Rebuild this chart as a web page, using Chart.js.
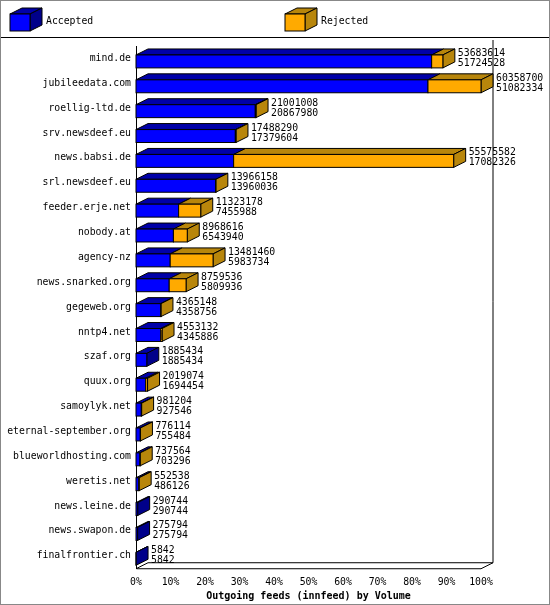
<!DOCTYPE html>
<html><head><meta charset="utf-8">
<script src="https://cdn.jsdelivr.net/npm/chart.js@4"></script>
<style>body{margin:0;background:#fff}#w{width:548px;height:603px;border:1px solid #888;position:relative}</style>
</head><body><div id="w"><canvas id="c" width="548" height="603"></canvas></div>
<script>
const categories=["mind.de","jubileedata.com","roellig-ltd.de","srv.newsdeef.eu","news.babsi.de","srl.newsdeef.eu","feeder.erje.net","nobody.at","agency-nz","news.snarked.org","gegeweb.org","nntp4.net","szaf.org","quux.org","samoylyk.net","eternal-september.org","blueworldhosting.com","weretis.net","news.leine.de","news.swapon.de","finalfrontier.ch"];
const offered=[53683614,60358700,21001008,17488290,55575582,13966158,11323178,8968616,13481460,8759536,4365148,4553132,1885434,2019074,981204,776114,737564,552538,290744,275794,5842];
const accepted=[51724528,51082334,20867980,17379604,17082326,13960036,7455988,6543940,5983734,5809936,4358756,4345886,1885434,1694454,927546,755484,703296,486126,290744,275794,5842];
const tickLabels=["0%","10%","20%","30%","40%","50%","60%","70%","80%","90%","100%"];
const maxV=Math.max(...offered);
const accPct=accepted.map(v=>v/maxV*100);
const rejPct=offered.map((v,i)=>(v-accepted[i])/maxV*100);
const DX=12,DY=-6,FONT="9.8px 'DejaVu Sans Mono'";
const cols=[{f:"#0000ff",t:"#0000a8",s:"#00008a"},{f:"#ffaa00",t:"#b8860b",s:"#b8860b"}];
function box3d(ctx,x0,y0,x1,y1,c,side){
 ctx.strokeStyle="#000";ctx.lineWidth=1;
 ctx.fillStyle=c.t;ctx.beginPath();ctx.moveTo(x0,y0);ctx.lineTo(x0+DX,y0+DY);ctx.lineTo(x1+DX,y0+DY);ctx.lineTo(x1,y0);ctx.closePath();ctx.fill();ctx.stroke();
 if(side){ctx.fillStyle=c.s;ctx.beginPath();ctx.moveTo(x1,y0);ctx.lineTo(x1+DX,y0+DY);ctx.lineTo(x1+DX,y1+DY);ctx.lineTo(x1,y1);ctx.closePath();ctx.fill();ctx.stroke();}
 ctx.fillStyle=c.f;ctx.fillRect(x0,y0,x1-x0,y1-y0);ctx.strokeRect(x0,y0,x1-x0,y1-y0);
}
const plug={id:'p3d',
 beforeDatasetsDraw(ch){const ctx=ch.ctx,a=ch.chartArea;ctx.save();ctx.strokeStyle="#000";ctx.lineWidth=1;
  ctx.beginPath();ctx.moveTo(0,36.5);ctx.lineTo(548,36.5);ctx.stroke();
  ctx.beginPath();ctx.moveTo(a.left+.5,a.top);ctx.lineTo(a.left+.5,a.bottom+.5);ctx.lineTo(a.right,a.bottom+.5);ctx.lineTo(a.right+DX,a.bottom+DY+.5);ctx.lineTo(a.right+DX,a.top+DY);ctx.stroke();
  ctx.beginPath();ctx.moveTo(a.left,a.bottom+.5);ctx.lineTo(a.left+DX,a.bottom+DY+.5);ctx.lineTo(a.right+DX,a.bottom+DY+.5);ctx.stroke();
  box3d(ctx,9,13,29,30,cols[0],true);ctx.fillStyle="#000";ctx.font=FONT;ctx.textBaseline="middle";ctx.fillText("Accepted",45,20);
  box3d(ctx,284,13,304,30,cols[1],true);ctx.fillStyle="#000";ctx.fillText("Rejected",320,20);
  ctx.restore();},
 afterDatasetsDraw(ch){const ctx=ch.ctx;ctx.save();
  const m0=ch.getDatasetMeta(0).data,m1=ch.getDatasetMeta(1).data;
  categories.forEach((_,i)=>{const b=m0[i],r=m1[i];const h=b.height/2;
   const y0=b.y-h+3,y1=b.y+h+3;const xs=b.base,xa=b.x,xr=r.x;
   const hasR=rejPct[i]>0;
   box3d(ctx,xs,y0,xa,y1,cols[0],!hasR);
   if(hasR)box3d(ctx,xa,y0,xr,y1,cols[1],true);
   ctx.fillStyle="#000";ctx.font=FONT;ctx.textBaseline="middle";
   ctx.fillText(String(offered[i]),xr+DX+3,b.y-5);ctx.fillText(String(accepted[i]),xr+DX+3,b.y+5);
  });ctx.restore();}};
new Chart(document.getElementById('c'),{type:'bar',
 data:{labels:categories,datasets:[{data:accPct,backgroundColor:'rgba(0,0,0,0)',categoryPercentage:0.52,barPercentage:1},{data:rejPct,backgroundColor:'rgba(0,0,0,0)',categoryPercentage:0.52,barPercentage:1}]},
 options:{indexAxis:'y',responsive:false,animation:false,events:[],layout:{padding:{top:45,right:68,left:0,bottom:2}},
  plugins:{legend:{display:false},tooltip:{enabled:false}},
  scales:{x:{stacked:true,min:0,max:100,grid:{display:false},border:{display:false},
    ticks:{stepSize:10,padding:0,color:'#000',font:{family:'DejaVu Sans Mono',size:9.8},callback:(v,i)=>tickLabels[i]},
    title:{display:true,text:'Outgoing feeds (innfeed) by Volume',color:'#000',padding:{top:2,bottom:0},font:{family:'DejaVu Sans Mono',size:10,weight:'bold'}}},
   y:{stacked:true,grid:{display:false,drawTicks:false,tickLength:0},border:{display:false},afterFit(s){s.width=135;},
    ticks:{color:'#000',padding:5,font:{family:'DejaVu Sans Mono',size:9.8}}}}},
 plugins:[plug]});
</script></body></html>
